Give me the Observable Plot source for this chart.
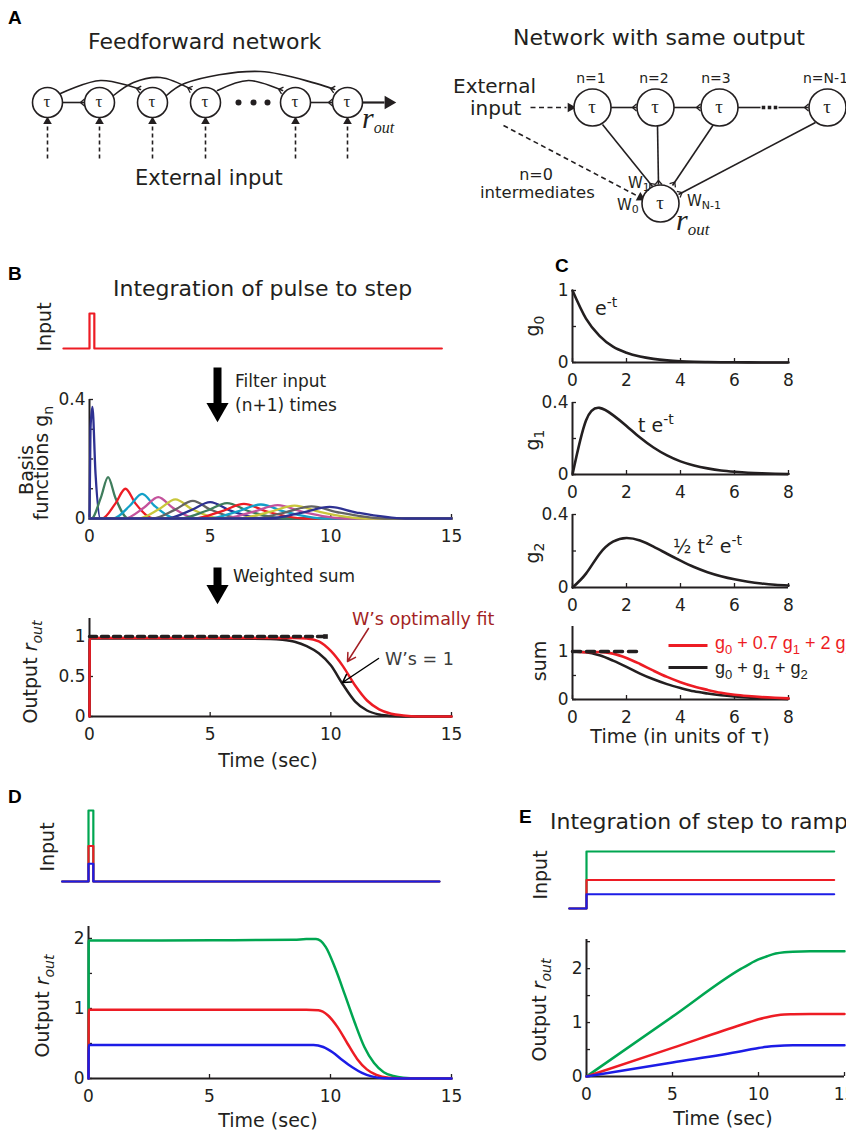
<!DOCTYPE html>
<html><head><meta charset="utf-8">
<script src="https://cdn.jsdelivr.net/npm/d3@7"></script>
<script src="https://cdn.jsdelivr.net/npm/@observablehq/plot@0.6"></script>
<style>
html,body{margin:0;padding:0;background:#fff;}
#page{position:relative;width:846px;height:1135px;overflow:hidden;background:#fff;}
</style></head><body><div id="page"></div>
<script>
// ================= DATA =================
// Panel B: input pulse
const bInputT = [-1.08, 0, 0, 0.2, 0.2, 14.6];
const bInputV = [0, 0, 1, 1, 0, 0];
const basisT = [
  [0, 0.04, 0.12, 0.25, 0.45],
  [0.08, 0.47, 0.77, 1.07, 1.61],
  [0.52, 1.07, 1.49, 1.91, 2.67],
  [0.98, 1.66, 2.18, 2.70, 3.64],
  [1.47, 2.25, 2.85, 3.45, 4.53],
  [2.02, 2.89, 3.56, 4.23, 5.44],
  [2.60, 3.55, 4.28, 5.01, 6.32],
  [3.18, 4.21, 5.00, 5.79, 7.21],
  [3.75, 4.85, 5.70, 6.55, 8.08],
  [4.33, 5.50, 6.40, 7.30, 8.92],
  [4.92, 6.15, 7.10, 8.05, 9.76],
  [5.50, 6.80, 7.80, 8.80, 10.60],
  [6.11, 7.46, 8.50, 9.54, 11.41],
  [6.72, 8.12, 9.20, 10.28, 12.22],
  [7.37, 8.83, 9.95, 11.07, 13.09]
];
const basisV = [
  [0, 0.30, 0.375, 0.15, 0],
  [0, 0.070, 0.139, 0.070, 0],
  [0, 0.050, 0.100, 0.050, 0],
  [0, 0.042, 0.083, 0.042, 0],
  [0, 0.036, 0.072, 0.036, 0],
  [0, 0.032, 0.064, 0.032, 0],
  [0, 0.030, 0.059, 0.030, 0],
  [0, 0.028, 0.055, 0.028, 0],
  [0, 0.026, 0.052, 0.026, 0],
  [0, 0.025, 0.049, 0.025, 0],
  [0, 0.024, 0.047, 0.024, 0],
  [0, 0.023, 0.045, 0.023, 0],
  [0, 0.022, 0.043, 0.022, 0],
  [0, 0.021, 0.041, 0.021, 0],
  [0, 0.020, 0.039, 0.020, 0]
];
// Panel B: output
const bBlackT = [0, 0.01, 4, 7.5, 8.0, 8.5, 9.0, 9.5, 10.0, 10.5, 11.0, 11.5, 12.0, 12.5, 13, 15];
const bBlackV = [0, 0.975, 0.975, 0.97, 0.96, 0.935, 0.88, 0.79, 0.64, 0.40, 0.19, 0.075, 0.025, 0.006, 0, 0];
const bRedT = [0, 0.01, 5, 8.5, 9.0, 9.5, 10.0, 10.5, 11.0, 11.5, 12.0, 12.5, 13.0, 13.6, 15];
const bRedV = [0, 0.98, 0.98, 0.98, 0.975, 0.94, 0.82, 0.63, 0.39, 0.20, 0.09, 0.035, 0.012, 0, 0];
const bTargetT = [0, 9.78];
const bTargetV = [1, 1];
// Panel C
const cT = [0,0.5,1,1.5,2,2.5,3,3.5,4,4.5,5,5.5,6,6.5,7,7.5,8];
const g0V = [1,0.61,0.37,0.22,0.135,0.082,0.05,0.03,0.018,0.011,0.007,0.004,0.0025,0.0015,0.001,0.0006,0.0003];
const g1V = [0,0.30,0.37,0.33,0.27,0.205,0.15,0.106,0.073,0.05,0.034,0.022,0.015,0.0098,0.0064,0.0042,0.0027];
const g2V = [0,0.076,0.184,0.251,0.271,0.257,0.224,0.185,0.147,0.112,0.084,0.062,0.045,0.032,0.022,0.015,0.011];
const sumBlackV = [1,0.985,0.92,0.81,0.68,0.54,0.42,0.32,0.24,0.17,0.125,0.088,0.062,0.043,0.03,0.02,0.014];
const sumRedV = [1,0.985,0.99,0.955,0.865,0.74,0.60,0.47,0.36,0.27,0.20,0.14,0.10,0.072,0.05,0.035,0.024];
const cTargetT = [0, 2.5];
const cTargetV = [1, 1];
// Panel D
const dInputT = [-1.09, 0, 0, 0.2, 0.2, 14.5];
const dInGreenV = [0, 0, 2, 2, 0, 0];
const dInRedV = [0, 0, 1, 1, 0, 0];
const dInBlueV = [0, 0, 0.5, 0.5, 0, 0];
const dGreenT = [0, 0.01, 3, 6, 8.5, 9.0, 9.4, 9.8, 10.2, 10.6, 11.0, 11.4, 11.8, 12.2, 12.6, 13.0, 13.6, 15];
const dGreenV = [0, 1.97, 1.97, 1.975, 1.98, 1.99, 1.99, 1.88, 1.57, 1.19, 0.80, 0.45, 0.22, 0.09, 0.035, 0.01, 0, 0];
const dRedT = [0, 0.01, 5, 9.0, 9.5, 9.9, 10.3, 10.7, 11.1, 11.5, 11.9, 12.4, 13.0, 15];
const dRedV = [0, 0.98, 0.98, 0.98, 0.975, 0.90, 0.73, 0.50, 0.28, 0.13, 0.05, 0.01, 0, 0];
const dBlueT = [0, 0.01, 5, 9.3, 9.7, 10.1, 10.5, 10.9, 11.3, 11.7, 12.2, 12.8, 15];
const dBlueV = [0, 0.48, 0.48, 0.48, 0.45, 0.37, 0.26, 0.16, 0.08, 0.03, 0.005, 0, 0];
// Panel E
const eInputT = [-1, 0, 0, 14.4];
const eInGreenV = [0, 0, 2, 2];
const eInRedV = [0, 0, 1, 1];
const eInBlueV = [0, 0, 0.5, 0.5];
const eT = [0, 5, 9, 9.5, 10, 10.5, 11, 11.5, 12, 13, 15];
const eGreenV = [0, 1.11, 2.0, 2.09, 2.17, 2.23, 2.28, 2.305, 2.315, 2.32, 2.32];
const eRedV = [0, 0.53, 0.96, 1.01, 1.06, 1.10, 1.13, 1.15, 1.155, 1.16, 1.16];
const eBlueV = [0, 0.26, 0.47, 0.50, 0.53, 0.55, 0.565, 0.575, 0.58, 0.58, 0.58];
// Panel A diagram (node centres)
const ffNodeX = [47, 99, 152, 205, 295, 347];
const ffNodeY = 102;
const ffDotX = [238, 253, 267];
const ffArcs = [
  [[60,93],[100,80],[140,89]],
  [[113,95],[133,82],[160,77],[191,89]],
  [[166,95],[184,83],[260,71],[334,89]],
  [[217,90],[248,80],[282,90]]
];
const ffChain = [[[62,102],[84,102]], [[310,102],[332,102]]];
const netNodeX = [592, 655, 719, 827];
const netNodeY = 107;
const netOut = [660, 203];
const netChain = [[[610,107],[636,107]], [[673,107],[700,107]], [[737,107],[760,107]], [[778,107],[808,107]]];
const netSquaresX = [763, 769, 775];
const netSpokes = [[[602,124],[652,186]], [[657,125],[658,184]], [[713,124],[672,185]], [[815,122],[678,194]]];

// ================= HELPERS =================
const page = document.getElementById("page");
const INK = "#231f20", RED = "#ed1c24", GREEN = "#00a651", BLUE = "#1c1ce6";
const FONT = "DejaVu Sans, Verdana, sans-serif";
const ARIAL = "Liberation Sans, Arial, sans-serif";
const basisColors = ["#2e3192","#3f7d5c","#ed1c24","#12a0c8","#c4529c","#c9c73c","#636363"];
const zip = (T, V) => T.map((t, i) => ({t, v: V[i]}));

function place(f, opts) {
  const ml = 60, mr = 30, mt = 15, mb = 40;
  const svg = Plot.plot({
    width: f.x1 - f.x0 + ml + mr, height: f.y1 - f.y0 + mt + mb,
    marginLeft: ml, marginRight: mr, marginTop: mt, marginBottom: mb,
    style: {background: "transparent", overflow: "visible", fontFamily: FONT, fontSize: "17px", color: INK, maxWidth: "none"},
    ...opts
  });
  svg.style.position = "absolute";
  svg.style.left = (f.x0 - ml) + "px";
  svg.style.top = (f.y0 - mt) + "px";
  page.appendChild(svg);
  return svg;
}
function axes(f, xd, yd, xt, yt, ym = []) {
  const lenY = 4 / (f.y1 - f.y0) * (yd[1] - yd[0]);
  const lenX = 4 / (f.x1 - f.x0) * (xd[1] - xd[0]);
  return [
    Plot.ruleY([yd[0]], {stroke: INK, strokeWidth: 2}),
    Plot.ruleX([xd[0]], {stroke: INK, strokeWidth: 2}),
    Plot.ruleX(xt, {x: d => d, y1: yd[0], y2: yd[0] + lenY, stroke: INK, strokeWidth: 1.3}),
    Plot.ruleY(yt.concat(ym), {y: d => d, x1: xd[0], x2: xd[0] + lenX, stroke: INK, strokeWidth: 1.3}),
    Plot.axisX({ticks: xt, tickSize: 0, tickPadding: 11, label: null, tickFormat: d => String(d)}),
    Plot.axisY({ticks: yt, tickSize: 0, tickPadding: 4, label: null, tickFormat: d => String(d)})
  ];
}
const curve = (data, stroke, extra = {}) => Plot.line(data, {x: "t", y: "v", stroke, strokeWidth: 2.5, curve: "monotone-x", ...extra});
const step = (data, stroke) => Plot.line(data, {x: "t", y: "v", stroke, strokeWidth: 2.2});

// ================= PANEL B =================
{
  const f = {x0: 89, x1: 451, y0: 313, y1: 348};
  place(f, {x: {domain: [0, 15], axis: null}, y: {domain: [0, 1], axis: null},
    marks: [step(zip(bInputT, bInputV), RED)]});
}
{
  const f = {x0: 89, x1: 451, y0: 399, y1: 518};
  const xd = [0, 15], yd = [0, 0.4];
  const lines = basisT.map((T, k) => {
    let d = zip(T, basisV[k]);
    if (T[0] > 0) d = [{t: 0, v: 0}, ...d];
    d = [...d, {t: 15, v: 0}];
    return curve(d, basisColors[k % basisColors.length], {strokeWidth: 2.3});
  });
  place(f, {x: {domain: xd, axis: null}, y: {domain: yd, axis: null},
    marks: [...axes(f, xd, yd, [0, 5, 10, 15], [0, 0.4], [0.1, 0.2, 0.3]), ...lines]});
}
{
  const f = {x0: 89, x1: 451, y0: 618, y1: 716};
  const xd = [0, 15], yd = [0, 1.225];
  place(f, {x: {domain: xd, axis: null}, y: {domain: yd, axis: null},
    marks: [...axes(f, xd, yd, [0, 5, 10, 15], [0, 0.5, 1]),
      curve(zip(bBlackT, bBlackV), INK),
      curve(zip(bRedT, bRedV), RED),
      Plot.line(zip(bTargetT, bTargetV), {x: "t", y: "v", stroke: INK, strokeWidth: 3.5, strokeDasharray: "7,5"}),
      Plot.dot(zip(bTargetT, bTargetV).slice(1), {x: "t", y: "v", symbol: "square", r: 2.6, fill: INK})
    ]});
}
// ================= PANEL C =================
function cPanel(f, yd, yt, ym, marks) {
  const xd = [0, 8];
  place(f, {x: {domain: xd, axis: null}, y: {domain: yd, axis: null},
    marks: [...axes(f, xd, yd, [0, 2, 4, 6, 8], yt, ym), ...marks]});
}
cPanel({x0: 572, x1: 788, y0: 290, y1: 362}, [0, 1], [0, 1], [0.5], [curve(zip(cT, g0V), INK, {strokeWidth: 2.6})]);
cPanel({x0: 572, x1: 788, y0: 402, y1: 474}, [0, 0.4], [0, 0.4], [0.2], [curve(zip(cT, g1V), INK, {strokeWidth: 2.6, curve: "natural"})]);
cPanel({x0: 572, x1: 788, y0: 514, y1: 587}, [0, 0.4], [0, 0.4], [0.2], [curve(zip(cT, g2V), INK, {strokeWidth: 2.6, curve: "natural"})]);
cPanel({x0: 572, x1: 788, y0: 626, y1: 699}, [0, 1.52], [0, 1], [0.5], [
  curve(zip(cT, sumBlackV), INK, {strokeWidth: 2.6}),
  curve(zip(cT, sumRedV), RED, {strokeWidth: 2.6}),
  Plot.line(zip(cTargetT, cTargetV), {x: "t", y: "v", stroke: INK, strokeWidth: 3.5, strokeDasharray: "8,6"})
]);
// ================= PANEL D =================
{
  const f = {x0: 88, x1: 451, y0: 810, y1: 881};
  place(f, {x: {domain: [0, 15], axis: null}, y: {domain: [0, 2], axis: null},
    marks: [step(zip(dInputT, dInGreenV), GREEN), step(zip(dInputT, dInRedV), RED), step(zip(dInputT, dInBlueV), BLUE)]});
}
{
  const f = {x0: 88, x1: 451, y0: 926, y1: 1078};
  const xd = [0, 15], yd = [0, 2.17];
  place(f, {x: {domain: xd, axis: null}, y: {domain: yd, axis: null},
    marks: [...axes(f, xd, yd, [0, 5, 10, 15], [0, 1, 2], [0.5, 1.5]),
      curve(zip(dGreenT, dGreenV), GREEN), curve(zip(dRedT, dRedV), RED), curve(zip(dBlueT, dBlueV), BLUE)]});
}
// ================= PANEL E =================
{
  const f = {x0: 586, x1: 844, y0: 851, y1: 908};
  place(f, {x: {domain: [0, 15], axis: null}, y: {domain: [0, 2], axis: null},
    marks: [step(zip(eInputT, eInGreenV), GREEN), step(zip(eInputT, eInRedV), RED), step(zip(eInputT, eInBlueV), BLUE)]});
}
{
  const f = {x0: 586, x1: 844, y0: 939, y1: 1076};
  const xd = [0, 15], yd = [0, 2.54];
  place(f, {x: {domain: xd, axis: null}, y: {domain: yd, axis: null},
    marks: [...axes(f, xd, yd, [0, 5, 10, 15], [0, 1, 2], [0.5, 1.5, 2.5]),
      curve(zip(eT, eGreenV), GREEN), curve(zip(eT, eRedV), RED), curve(zip(eT, eBlueV), BLUE)]});
}

// ================= OVERLAY: diagram + decorations =================
{
  const P = (a) => ({x: a[0], y: a[1]});
  const arcPts = ffArcs.flatMap((arc, id) => arc.map(p => ({...P(p), id})));
  const seg = (s) => ({x1: s[0][0], y1: s[0][1], x2: s[1][0], y2: s[1][1]});
  const forks = [];
  function fork(from, to) {
    const dx = to[0] - from[0], dy = to[1] - from[1], L = Math.hypot(dx, dy);
    const ux = dx / L, uy = dy / L, nx = -uy, ny = ux;
    const bx = to[0] - 4 * ux, by = to[1] - 4 * uy;
    forks.push({x1: bx, y1: by, x2: to[0] + 3.5 * nx, y2: to[1] + 3.5 * ny});
    forks.push({x1: bx, y1: by, x2: to[0] - 3.5 * nx, y2: to[1] - 3.5 * ny});
  }
  ffArcs.forEach(a => fork(a[a.length - 2], a[a.length - 1]));
  ffChain.forEach(s => fork(s[0], s[1]));
  netChain.forEach((s, i) => { if (i !== 2) fork(s[0], s[1]); });
  netSpokes.forEach(s => fork(s[0], s[1]));
  const lk = {x1: "x1", y1: "y1", x2: "x2", y2: "y2", stroke: INK, strokeWidth: 1.6};
  const ffNodes = ffNodeX.map(x => ({x, y: ffNodeY}));
  const netNodes = netNodeX.map(x => ({x, y: netNodeY})).concat([{x: netOut[0], y: netOut[1]}]);
  const svg = Plot.plot({
    width: 846, height: 1135, margin: 0,
    x: {domain: [0, 846], range: [0, 846], axis: null},
    y: {domain: [0, 1135], range: [0, 1135], axis: null},
    style: {background: "transparent", overflow: "visible"},
    marks: [
      // feedforward chain
      Plot.line(arcPts, {x: "x", y: "y", z: "id", curve: "catmull-rom", stroke: INK, strokeWidth: 1.6}),
      Plot.link(ffChain.map(seg), lk),
      Plot.link(ffNodeX.map(x => ({x1: x, y1: 158, x2: x, y2: 124})), {...lk, strokeDasharray: "4,3"}),
      Plot.dot(ffNodeX.map(x => ({x, y: 121})), {x: "x", y: "y", symbol: "triangle", r: 3.2, fill: INK}),
      Plot.link([{x1: 362, y1: 102, x2: 384, y2: 102}], {...lk, strokeWidth: 2.2}),
      Plot.dot([{x: 388, y: 102}], {x: "x", y: "y", symbol: "triangle", r: 5, rotate: 90, fill: INK}),
      Plot.dot(ffNodes, {x: "x", y: "y", r: 15, fill: "white", stroke: INK, strokeWidth: 1.6}),
      Plot.dot(ffDotX.map(x => ({x, y: ffNodeY})), {x: "x", y: "y", r: 3, fill: INK}),
      // network with same output
      Plot.link(netChain.map(seg), lk),
      Plot.link(netSpokes.map(seg), lk),
      Plot.dot(netSquaresX.map(x => ({x, y: netNodeY})), {x: "x", y: "y", symbol: "square", r: 2, fill: INK}),
      Plot.link([{x1: 530, y1: 107, x2: 566, y2: 107}, {x1: 503, y1: 125, x2: 636, y2: 195}], {...lk, strokeDasharray: "5,3.5"}),
      Plot.dot([{x: 570, y: 107, r: 90}, {x: 640, y: 197, r: 118}], {x: "x", y: "y", symbol: "triangle", r: 3.6, rotate: "r", fill: INK}),
      Plot.link(forks, {...lk, strokeWidth: 1.3}),
      Plot.dot(netNodes, {x: "x", y: "y", r: 18.5, fill: "white", stroke: INK, strokeWidth: 1.6}),
      // big arrows in B
      Plot.link([{x1: 217, y1: 367, x2: 217, y2: 405}, {x1: 217, y1: 567, x2: 217, y2: 588}], {...lk, strokeWidth: 8, stroke: "#000"}),
      Plot.dot([{x: 217, y: 409}, {x: 217, y: 591}], {x: "x", y: "y", symbol: "triangle", r: 8.2, rotate: 180, fill: "#000"}),
      // annotation arrows in B output
      Plot.arrow([{x1: 368, y1: 628, x2: 347, y2: 661}], {x1: "x1", y1: "y1", x2: "x2", y2: "y2", stroke: "#a31f24", strokeWidth: 1.5, headLength: 9}),
      Plot.arrow([{x1: 378, y1: 658, x2: 342, y2: 682}], {x1: "x1", y1: "y1", x2: "x2", y2: "y2", stroke: "#000", strokeWidth: 1.5, headLength: 9}),
      // legend swatches in C
      Plot.link([{x1: 668, y1: 645, x2: 707, y2: 645}], {...lk, stroke: RED, strokeWidth: 3}),
      Plot.link([{x1: 668, y1: 667, x2: 707, y2: 667}], {...lk, strokeWidth: 3})
    ]
  });
  svg.style.position = "absolute"; svg.style.left = "0px"; svg.style.top = "0px";
  page.appendChild(svg);
}

// ================= TEXT LAYER =================
const tl = d3.select(page).append("svg").attr("width", 846).attr("height", 1135)
  .style("position", "absolute").style("left", "0px").style("top", "0px");
function T(x, y, parts, o = {}) {
  const size = o.size || 19;
  const t = tl.append("text").attr("x", x).attr("y", y)
    .attr("font-family", o.family || FONT).attr("font-size", size)
    .attr("fill", o.color || INK).attr("text-anchor", o.anchor || "start");
  if (o.weight) t.attr("font-weight", o.weight);
  if (o.italic) t.attr("font-style", "italic");
  if (o.rotate) t.attr("transform", `rotate(${o.rotate},${x},${y})`);
  if (typeof parts === "string") parts = [[parts]];
  let shift = 0;
  for (const [s, off = 0, attrs = {}] of parts) {
    const sp = t.append("tspan").text(s);
    if (off !== shift) { sp.attr("dy", off - shift); shift = off; }
    for (const k in attrs) sp.attr(k, attrs[k]);
  }
}
const IT = {"font-style": "italic"};
const SUB = (s, fs = 14) => [s, 5, {"font-size": fs}];
const SUP = (s) => [s, -8, {"font-size": 14}];
const LET = {size: 19, weight: "bold", family: ARIAL, color: "#000"};
T(8, 24, "A", LET); T(8, 280, "B", LET); T(555, 272, "C", LET); T(8, 803, "D", LET); T(519, 823, "E", LET);
T(88, 49, "Feedforward network", {size: 22});
T(513, 45, "Network with same output", {size: 22});
T(113, 296, "Integration of pulse to step", {size: 22});
T(550, 829, "Integration of step to ramp", {size: 22});
// A
T(135, 185, "External input", {size: 21});
ffNodeX.forEach(x => T(x, 107, "τ", {size: 17, anchor: "middle", family: "Liberation Serif, serif"}));
netNodeX.forEach(x => T(x, 113, "τ", {size: 19, anchor: "middle", family: "Liberation Serif, serif"}));
T(netOut[0], netOut[1] + 6, "τ", {size: 19, anchor: "middle", family: "Liberation Serif, serif"});
T(362, 128, [["r", 0, IT], ["out", 5, {"font-style": "italic", "font-size": 16}]], {size: 30, family: "Liberation Serif, serif"});
T(676, 230, [["r", 0, IT], ["out", 5, {"font-style": "italic", "font-size": 17}]], {size: 30, family: "Liberation Serif, serif"});
T(453, 93, "External", {size: 20});
T(470, 115, "input", {size: 20});
T(591, 83, "n=1", {size: 14, anchor: "middle"});
T(654, 83, "n=2", {size: 14, anchor: "middle"});
T(716, 83, "n=3", {size: 14, anchor: "middle"});
T(803, 83, "n=N-1", {size: 14});
T(536, 180, "n=0", {size: 16, anchor: "middle"});
T(480, 198, "intermediates", {size: 16.5});
T(628, 188, [["W"], ["1", 3, {"font-size": 11}]], {size: 15});
T(617, 210, [["W"], ["0", 3, {"font-size": 11}]], {size: 15});
T(687, 206, [["W"], ["N-1", 3, {"font-size": 11}]], {size: 15});
// B
T(51, 327, "Input", {anchor: "middle", rotate: -90});
T(33, 470, "Basis", {anchor: "middle", rotate: -90});
T(48, 463, [["functions g"], SUB("n")], {anchor: "middle", rotate: -90});
T(37, 672, [["Output "], ["r", 0, IT], ["out", 5, {"font-style": "italic", "font-size": 14}]], {anchor: "middle", rotate: -90});
T(235, 387, "Filter input", {size: 17});
T(235, 411, "(n+1) times", {size: 17});
T(233, 582, "Weighted sum", {size: 17});
T(268, 767, "Time (sec)", {anchor: "middle"});
T(352, 625, "W’s optimally fit", {size: 17.5, color: "#a31f24"});
T(385, 665, "W’s = 1", {size: 17.5, color: "#3c3c3c"});
// C
T(539, 326, [["g"], SUB("0")], {anchor: "middle", rotate: -90});
T(539, 440, [["g"], SUB("1")], {anchor: "middle", rotate: -90});
T(539, 553, [["g"], SUB("2")], {anchor: "middle", rotate: -90});
T(546, 661, "sum", {anchor: "middle", rotate: -90});
T(595, 315, [["e"], SUP("-t")]);
T(638, 432, [["t e"], SUP("-t")]);
T(673, 553, [["½ t"], SUP("2"), [" e", 0], SUP("-t")]);
T(715, 649, [["g"], SUB("0", 13), [" + 0.7 g", 0], SUB("1", 13), [" + 2 g", 0], SUB("2", 13)], {size: 18, family: ARIAL, color: RED});
T(715, 674, [["g"], SUB("0", 13), [" + g", 0], SUB("1", 13), [" + g", 0], SUB("2", 13)], {size: 18, family: ARIAL});
T(680, 743, "Time (in units of τ)", {anchor: "middle"});
// D
T(54, 847, "Input", {anchor: "middle", rotate: -90});
T(49, 1006, [["Output "], ["r", 0, IT], ["out", 5, {"font-style": "italic", "font-size": 14}]], {anchor: "middle", rotate: -90});
T(268, 1127, "Time (sec)", {anchor: "middle"});
// E
T(547, 875, "Input", {anchor: "middle", rotate: -90});
T(546, 1010, [["Output "], ["r", 0, IT], ["out", 5, {"font-style": "italic", "font-size": 14}]], {anchor: "middle", rotate: -90});
T(723, 1125, "Time (sec)", {anchor: "middle"});
</script></body></html>
